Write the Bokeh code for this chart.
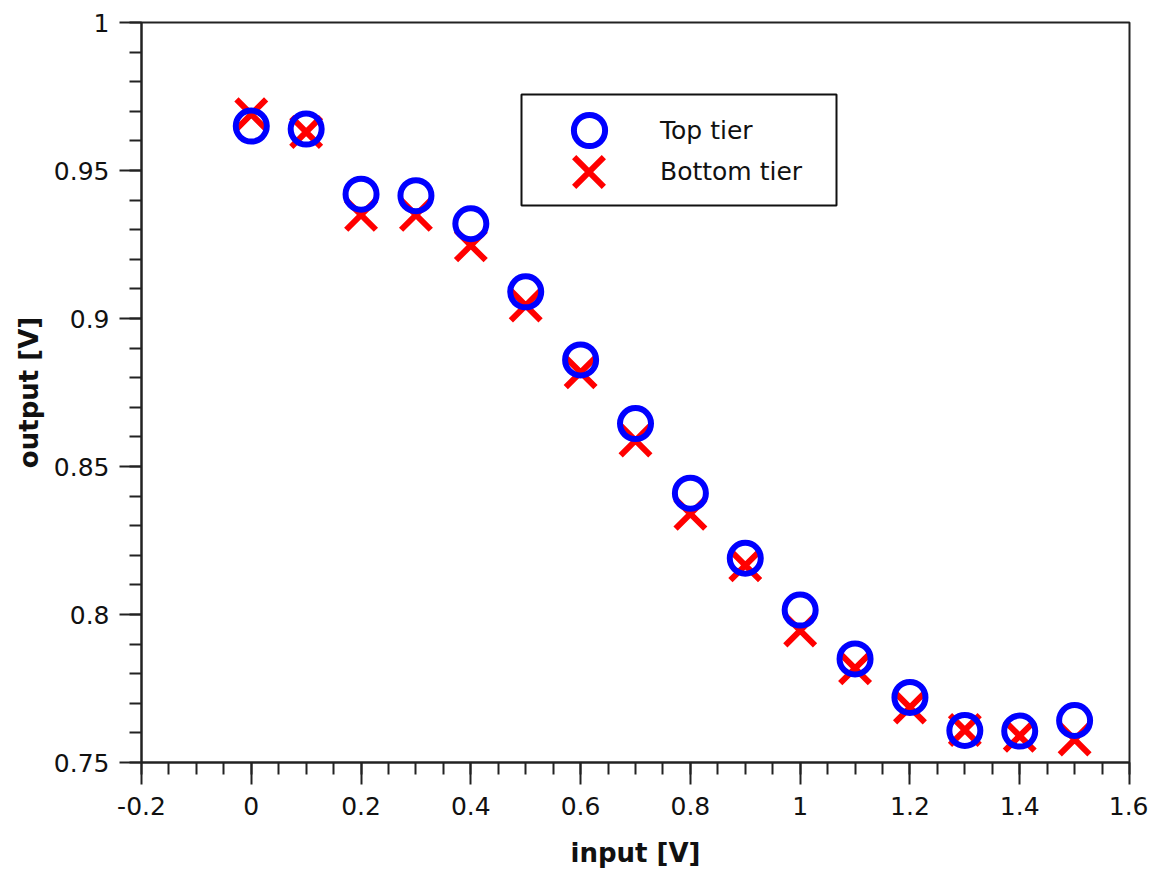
from bokeh.plotting import figure
from bokeh.models import Range1d, Legend, LegendItem, FixedTicker, BoxAnnotation
from bokeh.embed import file_html
from bokeh.resources import INLINE

x_input = [0.0, 0.1, 0.2, 0.3, 0.4, 0.5, 0.6, 0.7, 0.8, 0.9, 1.0, 1.1, 1.2, 1.3, 1.4, 1.5]
top_tier = [0.965, 0.964, 0.942, 0.9415, 0.932, 0.909, 0.886, 0.8645, 0.841, 0.819,
            0.8015, 0.785, 0.772, 0.7608, 0.7606, 0.7642]
bottom_tier = [0.969, 0.963, 0.935, 0.935, 0.9247, 0.9044, 0.8818, 0.8588, 0.834, 0.8166,
               0.7946, 0.7818, 0.7686, 0.761, 0.759, 0.7578]
x_ticks = [-0.2, 0.0, 0.2, 0.4, 0.6, 0.8, 1.0, 1.2, 1.4, 1.6]
y_ticks = [0.75, 0.8, 0.85, 0.9, 0.95, 1.0]
x_minor = [round(-0.2 + 0.05 * i, 2) for i in range(37)]
y_minor = [round(0.75 + 0.01 * i, 2) for i in range(26)]

FONT = "DejaVu Sans"
AX = "#222222"
TXT = "#111111"

# layout (pixels)
W, H = 1148, 870
BL, BR, BT, BB = 141, 19, 22, 108
FW, FH = W - BL - BR, H - BT - BB
X0, X1, Y0, Y1 = -0.2, 1.6, 0.75, 1.0

p = figure(width=W, height=H, output_backend="svg", toolbar_location=None,
           x_range=Range1d(X0, X1), y_range=Range1d(Y0, Y1),
           min_border_left=BL, min_border_right=BR, min_border_top=BT, min_border_bottom=BB)
p.grid.visible = False
p.outline_line_color = AX
p.outline_line_width = 2
p.background_fill_color = "white"
p.border_fill_color = "white"

for ax, ticks, minor in ((p.xaxis, x_ticks, x_minor), (p.yaxis, y_ticks, y_minor)):
    ax.ticker = FixedTicker(ticks=ticks, minor_ticks=minor)
    ax.axis_line_color = AX
    ax.axis_line_width = 2
    ax.major_tick_line_color = AX
    ax.major_tick_line_width = 2
    ax.minor_tick_line_color = AX
    ax.minor_tick_line_width = 2
    ax.major_tick_out = 22
    ax.major_tick_in = 0
    ax.minor_tick_out = 12
    ax.minor_tick_in = 0
    ax.major_label_text_font = FONT
    ax.major_label_text_font_size = "25px"
    ax.major_label_text_color = TXT
    ax.axis_label_text_font = FONT
    ax.axis_label_text_font_size = "26px"
    ax.axis_label_text_font_style = "bold"
    ax.axis_label_text_color = TXT

p.xaxis.axis_label = "input [V]"
p.yaxis.axis_label = "output [V]"
p.xaxis.major_label_standoff = 12
p.yaxis.major_label_standoff = 10
p.xaxis.axis_label_standoff = 20
p.yaxis.axis_label_standoff = 7
p.xaxis.major_label_overrides = {-0.2: "-0.2", 0.0: "0", 1.0: "1"}
p.yaxis.major_label_overrides = {1.0: "1"}

CIRCLE_SIZE, X_SIZE = 31, 42
r_bot = p.scatter(x_input, bottom_tier, marker="x", size=X_SIZE, line_color="red", line_width=6)
r_top = p.scatter(x_input, top_tier, marker="circle", size=CIRCLE_SIZE, fill_color=None,
                  line_color="blue", line_width=6)


def px_x(px):
    return X0 + (px - BL) / FW * (X1 - X0)


def px_y(py):
    return Y1 - (py - BT) / FH * (Y1 - Y0)


# legend frame (page pixels -> data via the ranges)
box = BoxAnnotation(left=px_x(521), right=px_x(836), top=px_y(94), bottom=px_y(205),
                    fill_color="white", fill_alpha=1.0, line_color=TXT, line_alpha=1.0,
                    line_width=2)
p.add_layout(box)


def add_entry(label, renderer, glyph_box, cx, cy, text_x):
    left = round(cx - glyph_box / 2)
    bottom = round(cy + glyph_box / 2)
    leg = Legend(items=[LegendItem(label=label, renderers=[renderer])],
                 location=(left - BL, (BT + FH) - bottom),
                 glyph_height=glyph_box, glyph_width=glyph_box, padding=0, margin=0,
                 spacing=0, label_standoff=text_x - (left + glyph_box),
                 label_text_font=FONT, label_text_font_size="25px", label_text_color=TXT,
                 border_line_color=None, background_fill_alpha=0.0)
    p.add_layout(leg)


add_entry("Top tier", r_top, round(CIRCLE_SIZE / 0.4), 589, 130, 660)
add_entry("Bottom tier", r_bot, round(X_SIZE / 0.4), 588, 171, 660)

open("out.html", "w").write(file_html(p, INLINE))
